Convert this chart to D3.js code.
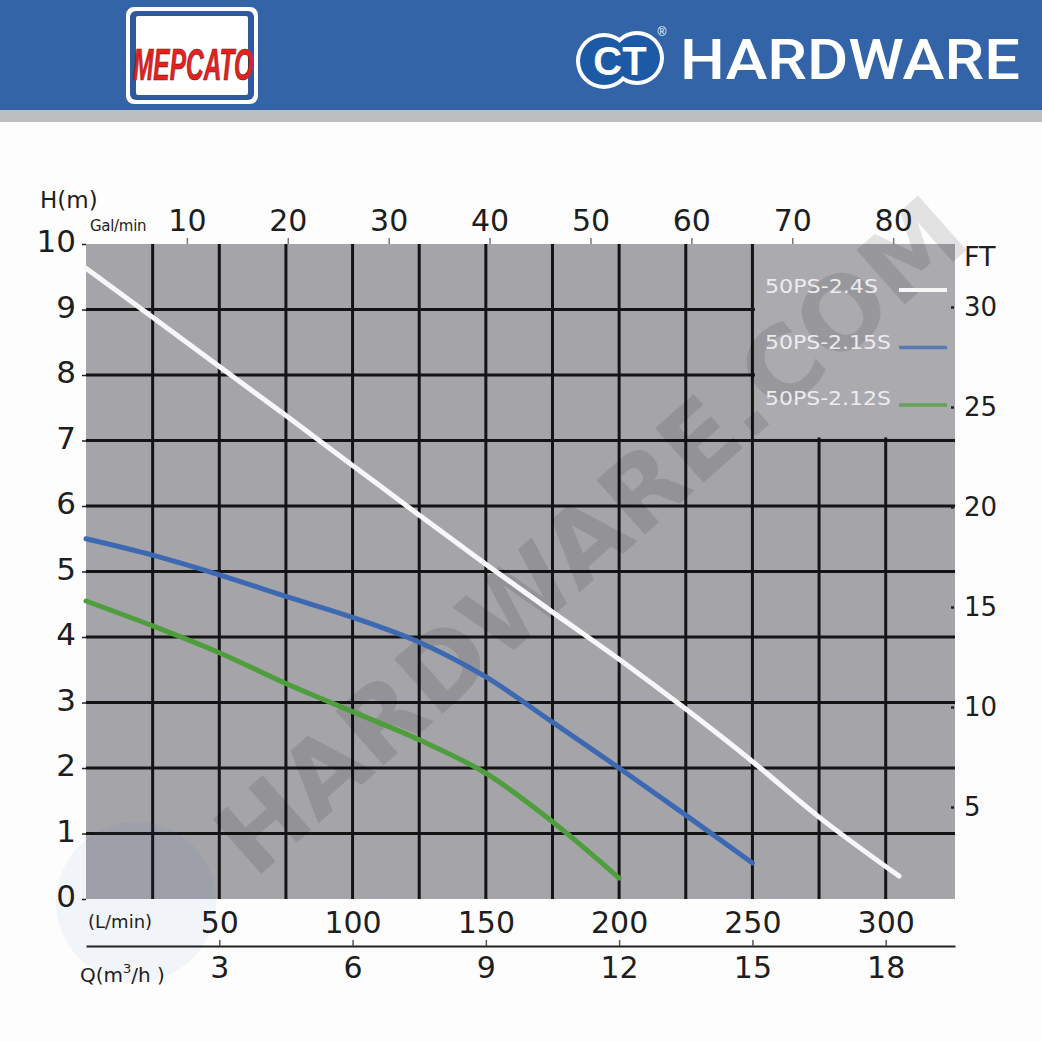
<!DOCTYPE html>
<html>
<head>
<meta charset="utf-8">
<script src="https://cdn.jsdelivr.net/npm/d3@7"></script>
<style>
  html, body { margin: 0; padding: 0; background: #fdfdfd; }
  svg { display: block; }
  .num text { font-family: "DejaVu Sans", Verdana, sans-serif; fill: #1e1e1e; }
</style>
</head>
<body>
<script>
// pump curves, flow in L/min, head in m
var flowWhite = [0, 25, 50, 75, 100, 125, 150, 175, 200, 225, 250, 275, 305];
var headWhite = [9.63, 8.88, 8.13, 7.38, 6.62, 5.86, 5.11, 4.38, 3.66, 2.90, 2.10, 1.25, 0.35];
var flowBlue = [0, 25, 50, 75, 100, 125, 150, 175, 200, 225, 250];
var headBlue = [5.50, 5.25, 4.95, 4.62, 4.30, 3.92, 3.39, 2.70, 2.00, 1.28, 0.55];
var flowGreen = [0, 25, 50, 75, 100, 125, 150, 175, 200];
var headGreen = [4.55, 4.17, 3.76, 3.29, 2.86, 2.43, 1.92, 1.18, 0.32];

var seriesNames = ["50PS-2.4S", "50PS-2.15S", "50PS-2.12S"];
var seriesColors = ["#f7f7f7", "#3d69b2", "#4e9e3e"];

var headTicks = [0, 1, 2, 3, 4, 5, 6, 7, 8, 9, 10];
var galTicks = [10, 20, 30, 40, 50, 60, 70, 80];
var lminTicks = [50, 100, 150, 200, 250, 300];
var m3hTicks = [3, 6, 9, 12, 15, 18];
var ftTicks = [5, 10, 15, 20, 25, 30];
var gridFlow = d3.range(25, 301, 25);
var gridHead = d3.range(1, 10, 1);

var W = 1042, H = 1042;
var svg = d3.select("body").append("svg").attr("width", W).attr("height", H);

// ---- header band
svg.append("rect").attr("x", 0).attr("y", 0).attr("width", W).attr("height", 110).attr("fill", "#3464a8");
svg.append("rect").attr("x", 0).attr("y", 110).attr("width", W).attr("height", 12).attr("fill", "#bdbec0");

// Mepcato logo
svg.append("rect").attr("x", 126).attr("y", 7).attr("width", 132).attr("height", 97).attr("rx", 8).attr("fill", "#ffffff");
svg.append("rect").attr("x", 130).attr("y", 11).attr("width", 124).attr("height", 89).attr("rx", 6).attr("fill", "#2e5a9c");
svg.append("rect").attr("x", 136).attr("y", 16).attr("width", 112).attr("height", 79).attr("rx", 2).attr("fill", "#ffffff");
svg.append("text")
    .attr("transform", "translate(193,80) scale(1,1.45)")
    .attr("text-anchor", "middle")
    .attr("textLength", 120).attr("lengthAdjust", "spacingAndGlyphs")
    .style("font-family", "Liberation Sans Narrow, Liberation Sans, Arial, sans-serif")
    .style("font-size", "30px").style("font-weight", "700").style("font-style", "italic")
    .style("fill", "#e2231f").style("stroke", "#8c1010").style("stroke-width", "0.5")
    .text("MEPCATO");

// CT hardware logo
var ct = svg.append("g");
ct.append("circle").attr("cx", 604).attr("cy", 61).attr("r", 28).attr("fill", "#ffffff");
ct.append("circle").attr("cx", 637).attr("cy", 58).attr("r", 27).attr("fill", "#ffffff");
ct.append("circle").attr("cx", 604).attr("cy", 61).attr("r", 24).attr("fill", "#1d5aa5");
ct.append("circle").attr("cx", 637).attr("cy", 58).attr("r", 23).attr("fill", "#1d5aa5");
ct.append("text").attr("x", 620).attr("y", 75).attr("text-anchor", "middle")
    .style("font-family", "Liberation Sans, Arial, sans-serif").style("font-size", "40px").style("font-weight", "700")
    .style("fill", "#ffffff").text("CT");
ct.append("text").attr("x", 662).attr("y", 36).attr("text-anchor", "middle")
    .style("font-family", "Liberation Sans, Arial, sans-serif").style("font-size", "12px")
    .style("fill", "#ffffff").text("®");
svg.append("text").attr("x", 680).attr("y", 79)
    .attr("textLength", 340).attr("lengthAdjust", "spacingAndGlyphs")
    .style("font-family", "Roboto, sans-serif").style("font-size", "55px").style("font-weight", "500")
    .style("fill", "#ffffff").text("HARDWARE");

// ---- scales
var x = d3.scaleLinear().domain([0, 326]).range([86, 955]);
var y = d3.scaleLinear().domain([0, 10]).range([899, 244]);
var xGal = d3.scaleLinear().domain([0, 326 / 3.785]).range([86, 955]);
var xM3h = d3.scaleLinear().domain([0, 326 * 0.06]).range([86, 955]);
var yFt = d3.scaleLinear().domain([0, 30]).range([907, 307]);

// plot background
svg.append("rect")
    .attr("x", x(0)).attr("y", y(10))
    .attr("width", x(326) - x(0)).attr("height", y(0) - y(10))
    .attr("fill", "#a5a4a9");

// grid
svg.append("g").selectAll("line").data(gridFlow).join("line")
    .attr("x1", d => x(d)).attr("x2", d => x(d))
    .attr("y1", y(10)).attr("y2", y(0))
    .attr("stroke", "#141414").attr("stroke-width", 3);
svg.append("g").selectAll("line").data(gridHead).join("line")
    .attr("x1", x(0)).attr("x2", x(326))
    .attr("y1", d => y(d)).attr("y2", d => y(d))
    .attr("stroke", "#141414").attr("stroke-width", 3);

// legend panel covers the grid in the top-right corner
svg.append("rect")
    .attr("x", x(250) + 2.5).attr("y", y(10))
    .attr("width", x(326) - x(250) - 2.5).attr("height", y(7) - y(10) - 3)
    .attr("fill", "#abaaaf");

// watermark
var wm = svg.append("g").attr("pointer-events", "none");
wm.append("circle").attr("cx", 136).attr("cy", 902).attr("r", 80)
    .attr("fill", "#3a6ab0").attr("opacity", 0.06);
wm.append("text")
    .attr("transform", "translate(590,535) rotate(-41.5)")
    .attr("text-anchor", "middle").attr("dy", "0.36em")
    .attr("textLength", 960).attr("lengthAdjust", "spacingAndGlyphs")
    .style("font-family", "DejaVu Sans, sans-serif").style("font-size", "100px").style("font-weight", "700")
    .style("fill", "#000").style("opacity", 0.1)
    .text("HARDWARE.COM");

// curves
var line = d3.line()
    .x(d => x(d[0]))
    .y(d => y(d[1]))
    .curve(d3.curveCatmullRom.alpha(0.5));

var curves = [
    d3.zip(flowWhite, headWhite),
    d3.zip(flowBlue, headBlue),
    d3.zip(flowGreen, headGreen)
];

svg.append("g").selectAll("path").data(curves).join("path")
    .attr("d", line)
    .attr("fill", "none")
    .attr("stroke", (d, i) => seriesColors[i])
    .attr("stroke-width", 5)
    .attr("stroke-linecap", "round");

// legend
var leg = svg.append("g");
seriesNames.forEach(function(name, i) {
    var ly = 286 + i * 56;
    leg.append("text")
        .attr("x", 765).attr("y", ly).attr("dy", "0.36em")
        .attr("textLength", i === 0 ? 113 : 126).attr("lengthAdjust", "spacingAndGlyphs")
        .style("font-family", "DejaVu Sans, sans-serif").style("font-size", "19px")
        .style("fill", "#f4f4f6").style("opacity", 0.9)
        .text(name);
    leg.append("line")
        .attr("x1", 899).attr("x2", 947)
        .attr("y1", ly + 4 + i * 1.5).attr("y2", ly + 4 + i * 1.5)
        .attr("stroke", seriesColors[i]).attr("stroke-width", i === 0 ? 4 : 3.5)
        .attr("opacity", i === 0 ? 1 : 0.75);
});

// ---- axes
function styleAxis(g, size) {
    g.classed("num", true);
    g.selectAll("text").style("font-size", size + "px");
    g.selectAll(".tick line").attr("stroke", "#222").attr("stroke-width", 2);
}

// head (left)
var leftAxis = svg.append("g")
    .attr("transform", "translate(" + x(0) + ",0)")
    .call(d3.axisLeft(y).tickValues(headTicks).tickSize(4).tickPadding(6).tickFormat(d3.format("d")));
leftAxis.select(".domain").remove();
styleAxis(leftAxis, 31);
leftAxis.selectAll(".tick text").attr("y", -2);
leftAxis.selectAll(".tick line").attr("stroke-width", 1.5);

// gal/min (top)
var topAxis = svg.append("g")
    .attr("transform", "translate(0," + y(10) + ")")
    .call(d3.axisTop(xGal).tickValues(galTicks).tickSize(6).tickPadding(7));
topAxis.select(".domain").remove();
styleAxis(topAxis, 30);
topAxis.selectAll(".tick line").attr("stroke", "#777").attr("stroke-width", 1.5);

// L/min (above the bottom rule)
var lminAxis = svg.append("g")
    .attr("transform", "translate(0,946)")
    .call(d3.axisTop(x).tickValues(lminTicks).tickSize(6).tickSizeOuter(0).tickPadding(7));
lminAxis.select(".domain").attr("stroke", "#222").attr("stroke-width", 2);
styleAxis(lminAxis, 30);
lminAxis.selectAll(".tick line").attr("stroke", "#555").attr("stroke-width", 1.5);

// m3/h (below the bottom rule)
var m3hAxis = svg.append("g")
    .attr("transform", "translate(0,946)")
    .call(d3.axisBottom(xM3h).tickValues(m3hTicks).tickSize(0).tickPadding(11));
m3hAxis.select(".domain").remove();
styleAxis(m3hAxis, 30);

// feet (right)
var ftAxis = svg.append("g")
    .attr("transform", "translate(951,0)")
    .call(d3.axisRight(yFt).tickValues(ftTicks).tickSize(3).tickPadding(10));
ftAxis.select(".domain").remove();
styleAxis(ftAxis, 26);
ftAxis.selectAll(".tick line").attr("stroke-width", 2.5);

// axis titles
function label(tx, ty, size, str) {
    return svg.append("text")
        .attr("x", tx).attr("y", ty)
        .style("font-family", "DejaVu Sans, Verdana, sans-serif")
        .style("font-size", size + "px").style("fill", "#1e1e1e")
        .text(str);
}
label(40, 208, 23, "H(m)");
label(90, 231, 15, "Gal/min").style("letter-spacing", "-0.3px");
label(964, 266, 27, "FT");
label(88, 928, 18, "(L/min)");
var q = label(80, 982, 20, "Q(m");
q.append("tspan").attr("dy", -9).style("font-size", "13px").text("3");
q.append("tspan").attr("dy", 9).text("/h )");
</script>
</body>
</html>
